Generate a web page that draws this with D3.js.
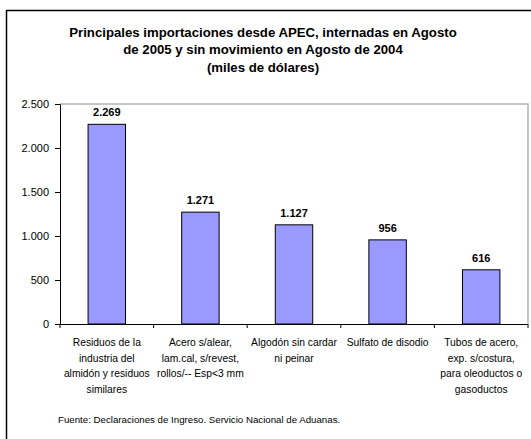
<!DOCTYPE html>
<html>
<head>
<meta charset="utf-8">
<script src="https://cdn.jsdelivr.net/npm/d3@7"></script>
<style>
  body { margin: 0; background: #fff; }
  svg { display: block; font-family: "Liberation Sans", Arial, sans-serif; }
</style>
</head>
<body>
<svg width="531" height="439"></svg>
<script>
const categories = [
	['Residuos de la', 'industria del', 'almidón y residuos', 'similares'],
	['Acero s/alear,', 'lam.cal, s/revest,', 'rollos/-- Esp<3 mm'],
	['Algodón sin cardar', 'ni peinar'],
	['Sulfato de disodio'],
	['Tubos de acero,', 'exp. s/costura,', 'para oleoductos o', 'gasoductos']
]
const values = [2269, 1271, 1127, 956, 616]
const yTicks = [0, 500, 1000, 1500, 2000, 2500]
const titleLines = [
	'Principales importaciones desde APEC, internadas en Agosto',
	'de 2005 y sin movimiento en Agosto de 2004',
	'(miles de dólares)'
]
const source = 'Fuente: Declaraciones de Ingreso. Servicio Nacional de Aduanas.'

const svg = d3.select('svg')
const fmt = d => d3.format(',')(d).replace(/,/g, '.')

// outer frame (continues off the right and bottom edges)
svg.append('rect')
	.attr('x', 6.5).attr('y', 10.5)
	.attr('width', 540).attr('height', 450)
	.attr('fill', 'none')
	.attr('stroke', '#000')
	.attr('stroke-width', 1.5)

const plotL = 60, plotR = 528, plotT = 104, plotB = 324

const x = d3.scaleBand()
	.domain(d3.range(categories.length))
	.range([plotL, plotR])
	.paddingInner(0.6)
	.paddingOuter(0.3)

const xb = d3.scaleBand()
	.domain(d3.range(categories.length))
	.range([plotL, plotR])

const y = d3.scaleLinear()
	.domain([0, 2500])
	.range([plotB, plotT])

// plot area border (top and right, gray)
svg.append('path')
	.attr('d', `M${plotL},${plotT}H${plotR}V${plotB}`)
	.attr('fill', 'none')
	.attr('stroke', '#b3b3b3')
	.attr('stroke-width', 1.5)

// title
svg.append('g')
	.selectAll('text')
	.data(titleLines)
	.join('text')
	.attr('x', 263)
	.attr('y', (d, i) => 37 + i * 17.3)
	.attr('text-anchor', 'middle')
	.attr('font-size', 13.2)
	.attr('font-weight', 'bold')
	.text(d => d)

// bars
svg.append('g')
	.selectAll('rect')
	.data(values)
	.join('rect')
	.attr('x', (d, i) => x(i))
	.attr('y', d => y(d))
	.attr('width', x.bandwidth())
	.attr('height', d => y(0) - y(d))
	.attr('fill', '#9999ff')
	.attr('stroke', '#000')
	.attr('stroke-width', 1)

// value labels
svg.append('g')
	.selectAll('text')
	.data(values)
	.join('text')
	.attr('x', (d, i) => x(i) + x.bandwidth() / 2)
	.attr('y', d => y(d) - 8)
	.attr('text-anchor', 'middle')
	.attr('font-size', 11)
	.attr('font-weight', 'bold')
	.text(fmt)

// y axis
const yAxis = svg.append('g')
	.attr('transform', `translate(${plotL},0)`)
	.call(d3.axisLeft(y).tickValues(yTicks).tickFormat(fmt).tickSize(5).tickSizeOuter(0))
yAxis.select('.domain').attr('stroke', '#000')
yAxis.selectAll('text')
	.attr('font-size', 11)
	.attr('font-family', '"Liberation Sans", Arial, sans-serif')
	.attr('fill', '#000')
	.attr('x', -11)

// x axis
const xAxis = svg.append('g')
	.attr('transform', `translate(0,${plotB})`)
xAxis.append('path')
	.attr('d', `M${plotL},0.5H${plotR}`)
	.attr('stroke', '#000')
xAxis.selectAll('line')
	.data(d3.range(categories.length + 1))
	.join('line')
	.attr('x1', i => i < categories.length ? xb(i) : plotR)
	.attr('x2', i => i < categories.length ? xb(i) : plotR)
	.attr('y1', 0).attr('y2', 4)
	.attr('stroke', '#000')

const labels = svg.append('g')
	.selectAll('text')
	.data(categories)
	.join('text')
	.attr('text-anchor', 'middle')
	.attr('font-size', 10.3)
	.attr('transform', (d, i) => `translate(${xb(i) + xb.bandwidth() / 2},${plotB + 22})`)
labels.selectAll('tspan')
	.data(d => d)
	.join('tspan')
	.attr('x', 0)
	.attr('y', (d, i) => i * 15.5)
	.text(d => d)

// source note
svg.append('text')
	.attr('x', 58)
	.attr('y', 423)
	.attr('font-size', 9.7)
	.text(source)
</script>
</body>
</html>
